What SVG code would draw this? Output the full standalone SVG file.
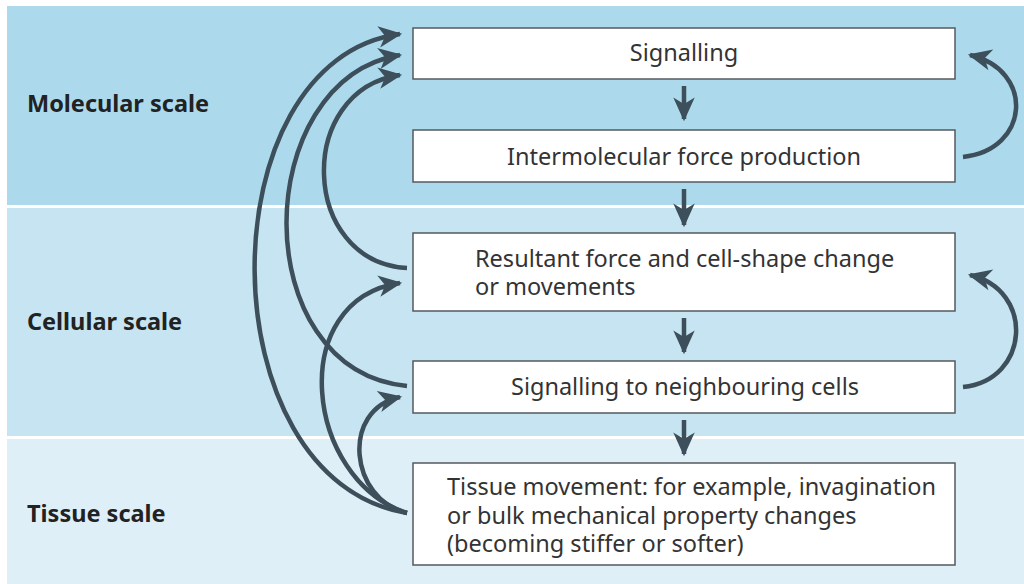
<svg xmlns="http://www.w3.org/2000/svg" width="1024" height="584" viewBox="0 0 1024 584">
<style>
.box{fill:#ffffff;stroke:#555a5e;stroke-width:1.5}
.t{font-family:"Noto Sans","Open Sans","Liberation Sans",sans-serif;font-size:23.5px;fill:#333333}
.lab{font-family:"Noto Sans","Open Sans","Liberation Sans",sans-serif;font-size:23.5px;font-weight:bold;fill:#222222}
.c{fill:none;stroke:#3d4f5a;stroke-width:4.5;stroke-linecap:butt}
</style>
<defs>
<marker id="ah" markerUnits="userSpaceOnUse" markerWidth="30" markerHeight="30" refX="0" refY="0" viewBox="-24 -12 28 24" orient="auto" overflow="visible">
<path d="M2,0 L-20,-10 L-14,0 L-20,10 Z" fill="#3d4f5a"/>
</marker>
</defs>
<rect x="0" y="0" width="1024" height="584" fill="#ffffff"/>
<g id="bands">
<rect x="7" y="6" width="1017" height="199" fill="#acdaec"/>
<rect x="7" y="208" width="1017" height="228" fill="#c6e4f1"/>
<rect x="7" y="439" width="1017" height="145" fill="#dfeff8"/>
</g>
<g id="labels">
<text class="lab" x="27" y="112">Molecular scale</text>
<text class="lab" x="27" y="330">Cellular scale</text>
<text class="lab" x="27" y="522">Tissue scale</text>
</g>
<g id="node-signalling">
<rect class="box" x="413" y="28" width="542" height="51"/>
<text class="t" x="684" y="61" text-anchor="middle">Signalling</text>
</g>
<g id="node-intermolecular">
<rect class="box" x="413" y="130" width="542" height="52"/>
<text class="t" x="684" y="165" text-anchor="middle">Intermolecular force production</text>
</g>
<g id="node-resultant">
<rect class="box" x="413" y="233" width="542" height="78"/>
<text class="t" x="475" y="267">Resultant force and cell-shape change</text>
<text class="t" x="475" y="295">or movements</text>
</g>
<g id="node-neighbouring">
<rect class="box" x="413" y="361" width="542" height="52"/>
<text class="t" x="685" y="395" text-anchor="middle">Signalling to neighbouring cells</text>
</g>
<g id="node-tissue">
<rect class="box" x="413" y="463" width="542" height="102"/>
<text class="t" x="447" y="495">Tissue movement: for example, invagination</text>
<text class="t" x="447" y="524">or bulk mechanical property changes</text>
<text class="t" x="447" y="552">(becoming stiffer or softer)</text>
</g>
<g id="connectors">
<path class="c" marker-end="url(#ah)" d="M684,86 L684,119"/>
<path class="c" marker-end="url(#ah)" d="M684,189 L684,225"/>
<path class="c" marker-end="url(#ah)" d="M684,318 L684,352"/>
<path class="c" marker-end="url(#ah)" d="M684,420 L684,454"/>
<path class="c" marker-end="url(#ah)" d="M407,513 C205,480 205,60 400,34"/>
<path class="c" marker-end="url(#ah)" d="M407,386 C245,370 250,80 400,55"/>
<path class="c" marker-end="url(#ah)" d="M407,268 C300,262 295,90 400,75"/>
<path class="c" marker-end="url(#ah)" d="M407,513 C305,480 285,300 400,283"/>
<path class="c" marker-end="url(#ah)" d="M407,513 C350,500 340,410 400,397"/>
<path class="c" marker-end="url(#ah)" d="M963,157 C1030,150 1035,70 970,55"/>
<path class="c" marker-end="url(#ah)" d="M963,387 C1030,380 1035,290 970,275"/>
</g>
</svg>
